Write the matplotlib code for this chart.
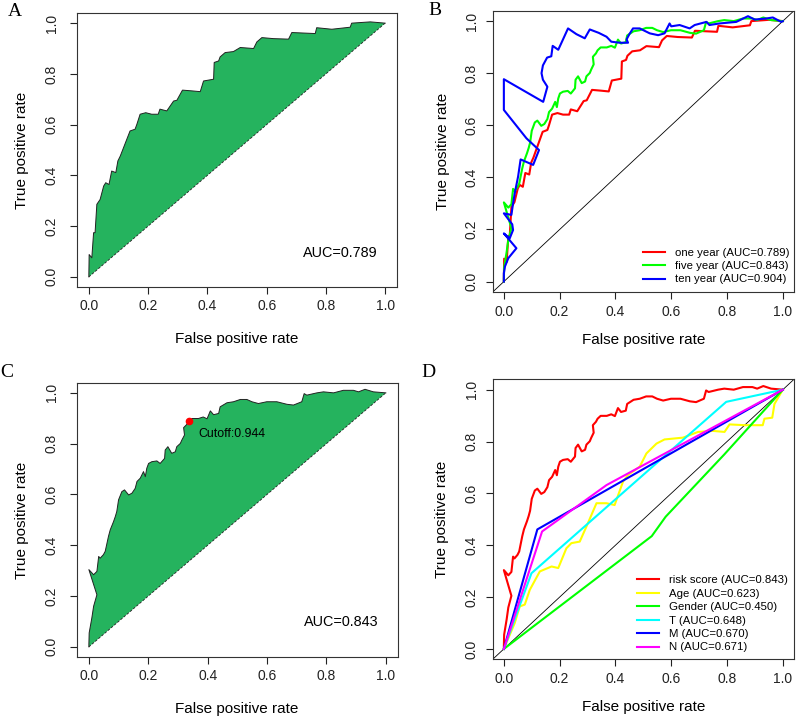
import numpy as np
import matplotlib
matplotlib.use('Agg')
import matplotlib.pyplot as plt
from matplotlib.lines import Line2D

plt.rcParams['font.family'] = ['Liberation Sans', 'DejaVu Sans']

# ROC points (fpr, tpr)
one_year = [(0, 0), (0, 0.009), (0.001, 0.088), (0.010, 0.075), (0.016, 0.174), (0.021, 0.174),
            (0.027, 0.286), (0.038, 0.305), (0.050, 0.358), (0.057, 0.371), (0.068, 0.364),
            (0.077, 0.417), (0.091, 0.411), (0.098, 0.457), (0.106, 0.476), (0.117, 0.509),
            (0.128, 0.542), (0.139, 0.575), (0.156, 0.582), (0.162, 0.601), (0.173, 0.641),
            (0.192, 0.647), (0.212, 0.641), (0.234, 0.641), (0.240, 0.661), (0.263, 0.654),
            (0.286, 0.693), (0.297, 0.696), (0.316, 0.736), (0.348, 0.733), (0.376, 0.730),
            (0.387, 0.772), (0.421, 0.779), (0.423, 0.845), (0.438, 0.851), (0.443, 0.867),
            (0.460, 0.884), (0.488, 0.888), (0.511, 0.904), (0.556, 0.900), (0.567, 0.926),
            (0.584, 0.943), (0.623, 0.939), (0.674, 0.937), (0.685, 0.963), (0.764, 0.959),
            (0.769, 0.982), (0.820, 0.976), (0.882, 0.984), (0.887, 1.000), (0.950, 1.005),
            (1.0, 1.0)]

five_year = [(0, 0), (0, 0.01), (0.001, 0.055), (0.010, 0.114), (0.016, 0.160), (0.027, 0.205),
             (0, 0.304), (0.016, 0.284), (0.021, 0.290), (0.027, 0.297), (0.033, 0.356),
             (0.038, 0.349), (0.049, 0.363), (0.055, 0.376), (0.066, 0.435), (0.072, 0.461),
             (0.083, 0.493), (0.089, 0.513), (0.094, 0.533), (0.100, 0.579), (0.111, 0.611),
             (0.120, 0.618), (0.134, 0.598), (0.145, 0.605), (0.156, 0.624), (0.162, 0.651),
             (0.173, 0.664), (0.184, 0.690), (0.190, 0.670), (0.195, 0.703), (0.201, 0.722),
             (0.212, 0.729), (0.229, 0.732), (0.240, 0.722), (0.255, 0.742), (0.257, 0.775),
             (0.266, 0.788), (0.279, 0.762), (0.291, 0.768), (0.296, 0.788), (0.308, 0.801),
             (0.313, 0.814), (0.322, 0.834), (0.319, 0.863), (0.330, 0.876), (0.336, 0.888),
             (0.347, 0.899), (0.369, 0.899), (0.385, 0.905), (0.398, 0.898), (0.409, 0.929),
             (0.420, 0.914), (0.437, 0.919), (0.442, 0.945), (0.465, 0.961), (0.487, 0.965),
             (0.510, 0.974), (0.532, 0.974), (0.549, 0.965), (0.571, 0.958), (0.599, 0.965),
             (0.633, 0.965), (0.667, 0.955), (0.689, 0.952), (0.717, 0.965), (0.725, 0.997),
             (0.734, 0.991), (0.768, 1.000), (0.790, 1.004), (0.824, 1.000), (0.857, 1.010),
             (0.891, 1.010), (0.908, 1.004), (0.930, 1.014), (0.958, 1.004), (1.0, 1.0)]

ten_year = [(0, 0), (0, 0.032), (0.004, 0.058), (0.016, 0.090), (0.045, 0.128), (0, 0.185),
            (0.021, 0.166), (0.033, 0.198), (0.030, 0.220), (0, 0.262), (0.027, 0.256),
            (0.033, 0.300), (0.039, 0.339), (0.051, 0.403), (0.060, 0.469), (0.105, 0.448),
            (0.126, 0.505), (0.081, 0.550), (0, 0.659), (0, 0.777), (0.141, 0.690),
            (0.156, 0.748), (0.140, 0.775), (0.135, 0.800), (0.140, 0.830), (0.155, 0.860),
            (0.170, 0.865), (0.175, 0.905), (0.195, 0.890), (0.210, 0.925), (0.230, 0.972),
            (0.260, 0.950), (0.290, 0.934), (0.308, 0.968), (0.340, 0.955), (0.368, 0.940),
            (0.385, 0.921), (0.415, 0.917), (0.445, 0.917), (0.440, 0.930), (0.450, 0.950),
            (0.463, 0.972), (0.487, 0.972), (0.523, 0.953), (0.553, 0.946), (0.576, 0.953),
            (0.594, 0.991), (0.600, 0.980), (0.630, 0.985), (0.666, 0.972), (0.684, 0.985),
            (0.726, 0.997), (0.737, 0.985), (0.773, 0.991), (0.833, 0.997), (0.875, 1.019),
            (0.899, 1.006), (0.940, 1.010), (0.964, 1.014), (0.994, 0.997), (1.0, 1.0)]

age_roc = [(0, 0), (0.039, 0.100), (0.057, 0.164), (0.075, 0.171), (0.093, 0.228), (0.129, 0.299),
           (0.171, 0.318), (0.195, 0.312), (0.224, 0.388), (0.242, 0.408), (0.272, 0.414),
           (0.296, 0.472), (0.332, 0.562), (0.368, 0.562), (0.397, 0.555), (0.427, 0.645),
           (0.445, 0.671), (0.487, 0.703), (0.511, 0.754), (0.547, 0.792), (0.576, 0.808),
           (0.642, 0.815), (0.696, 0.837), (0.749, 0.841), (0.791, 0.837), (0.809, 0.866),
           (0.863, 0.863), (0.928, 0.863), (0.934, 0.888), (0.962, 0.892), (0.970, 0.945),
           (1.0, 1.0)]
gender_roc = [(0, 0), (0.530, 0.435), (0.580, 0.510), (0.790, 0.750), (1.0, 1.0)]
t_roc = [(0, 0), (0.099, 0.292), (0.797, 0.953), (1.0, 1.0)]
m_roc = [(0, 0), (0.120, 0.461), (1.0, 1.0)]
n_roc = [(0, 0), (0.137, 0.453), (0.368, 0.632), (1.0, 1.0)]

b_labels = ['one year (AUC=0.789)', 'five year (AUC=0.843)', 'ten year (AUC=0.904)']
d_labels = ['risk score (AUC=0.843)', 'Age (AUC=0.623)', 'Gender (AUC=0.450)',
            'T (AUC=0.648)', 'M (AUC=0.670)', 'N (AUC=0.671)']
cutoff_point = (0.336, 0.888)
ticks = [0, 0.2, 0.4, 0.6, 0.8, 1.0]
tick_labels = ['0.0', '0.2', '0.4', '0.6', '0.8', '1.0']

W, H = 796, 719
fig = plt.figure(figsize=(W / 100, H / 100), dpi=100)


def add_panel(l, t, r, b):
    return fig.add_axes([l / W, 1 - b / H, (r - l) / W, (b - t) / H])


def ftext(px, py, s, **kw):
    fig.text(px / W, 1 - py / H, s, **kw)


def setup_axes(ax, ypad):
    ax.set_xlim(-0.04, 1.04)
    ax.set_ylim(-0.04, 1.04)
    ax.set_xticks(ticks)
    ax.set_xticklabels(tick_labels)
    ax.set_yticks(ticks)
    ax.set_yticklabels(tick_labels)
    ax.tick_params(direction='out', length=5, width=0.8, labelsize=10, colors='#222')
    ax.tick_params(axis='x', pad=4)
    ax.tick_params(axis='y', pad=ypad)
    for lbl in ax.get_yticklabels():
        lbl.set_rotation(90)
        lbl.set_va('center')
    for s in ax.spines.values():
        s.set_linewidth(0.8)
        s.set_color('#333333')


def fill_roc(ax, pts):
    x, y = np.array(pts).T
    ax.fill(x, y, facecolor='#25b35e', edgecolor='none')
    ax.plot(x, y, color='#222222', lw=0.7)
    ax.plot([0, 1], [0, 1], color='#222222', lw=0.6, ls=(0, (3, 2)))


def line_roc(ax, pts, color):
    x, y = np.array(pts).T
    ax.plot(x, y, color=color, lw=1.5)


def add_legend(ax, colors, labels, px, py):
    handles = [Line2D([], [], color=c, lw=1.5) for c in colors]
    ax.legend(handles, labels, loc='lower left', bbox_to_anchor=(px / W, 1 - py / H),
              bbox_transform=fig.transFigure, frameon=False, fontsize=8.2, borderpad=0,
              borderaxespad=0, handlelength=1.93, handletextpad=0.85, labelspacing=0.3)


# Panel A
axA = add_panel(77, 13, 397, 287)
setup_axes(axA, 8)
fill_roc(axA, one_year)
axA.text(0.848, 0.095, 'AUC=0.789', ha='center', va='center', fontsize=10.4)

# Panel B
axB = add_panel(492.7, 10.7, 794, 292)
setup_axes(axB, 5)
axB.plot([-0.04, 1.04], [-0.04, 1.04], color='black', lw=0.6)
b_colors = ['#ff0000', '#00ff00', '#0000ff']
for pts, c in zip([one_year, five_year, ten_year], b_colors):
    line_roc(axB, pts, c)
add_legend(axB, b_colors, b_labels, 643, 284.5)

# Panel C
axC = add_panel(77, 382.7, 397.7, 657)
setup_axes(axC, 8)
fill_roc(axC, five_year)
axC.plot(*cutoff_point, 'o', color='#ff0000', ms=4.5)
axC.text(0.37, 0.837, 'Cutoff:0.944', ha='left', va='center', fontsize=8.9)
axC.text(0.849, 0.098, 'AUC=0.843', ha='center', va='center', fontsize=10.4)

# Panel D
axD = add_panel(492.7, 379.3, 794, 659.3)
setup_axes(axD, 5)
axD.plot([-0.04, 1.04], [-0.04, 1.04], color='black', lw=0.6)
d_curves = [five_year, age_roc, gender_roc, t_roc, m_roc, n_roc]
d_colors = ['#ff0000', '#ffff00', '#00ff00', '#00ffff', '#0000ff', '#ff00ff']
for pts, c in zip(d_curves, d_colors):
    line_roc(axD, pts, c)
add_legend(axD, d_colors, d_labels, 637, 652.5)

# axis labels
for cx, cy in [(237, 339), (643.3, 340.5), (237, 709), (643.3, 707.5)]:
    ftext(cx, cy, 'False positive rate', ha='center', va='center', fontsize=11)
for cx, cy in [(22, 150), (443.5, 151), (22, 520), (441.7, 519)]:
    ftext(cx, cy, 'True positive rate', ha='center', va='center', fontsize=11, rotation=90)

# panel letters
for px, py, s in [(8, 3, 'A'), (428, 2, 'B'), (0, 364, 'C'), (421, 364, 'D')]:
    ftext(px, py, s, ha='left', va='top', fontsize=14, family='Liberation Serif')

fig.savefig('out.png', dpi=100)
